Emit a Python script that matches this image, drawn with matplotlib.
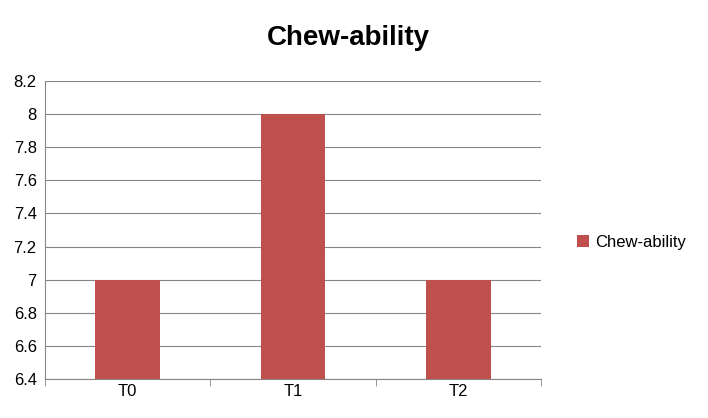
import matplotlib
matplotlib.use("Agg")
import matplotlib.pyplot as plt
import matplotlib.patches as mpatches

categories = ["T0", "T1", "T2"]
values = [7.0, 8.0, 7.0]
series_name = "Chew-ability"
yticks = [6.4, 6.6, 6.8, 7.0, 7.2, 7.4, 7.6, 7.8, 8.0, 8.2]

plt.rcParams["font.family"] = ["Liberation Sans", "DejaVu Sans"]

fig = plt.figure(figsize=(7.08, 4.18), dpi=100)
ax = fig.add_axes([45 / 708, 1 - 379 / 418, 496 / 708, 298 / 418])

ax.bar(range(len(categories)), values, width=0.39, color="#C0504D", zorder=3)
ax.set_xlim(-0.5, len(categories) - 0.5)
ax.set_ylim(6.4, 8.2)
ax.set_yticks(yticks)
ax.set_yticklabels([f"{v:g}" for v in yticks], fontsize=12)
ax.set_xticks(range(len(categories)))
ax.set_xticklabels(categories, fontsize=12)
ax.grid(axis="y", color="#868686", linewidth=0.8, zorder=0)
for s in ["top", "right"]:
    ax.spines[s].set_visible(False)
ax.spines["left"].set_color("#868686")
ax.spines["bottom"].set_color("#868686")
ax.tick_params(axis="y", length=0, pad=6)
ax.tick_params(axis="x", length=5, color="#868686")
ax.set_xticks([-0.5, 0.5, 1.5, 2.5], minor=True)
ax.tick_params(axis="x", which="major", length=0)
ax.tick_params(axis="x", which="minor", length=5, color="#868686")

fig.text(348 / 708, 1 - 38 / 418, "Chew-ability", ha="center", va="center",
         fontsize=20, fontweight="bold")

handle = mpatches.Patch(facecolor="#C0504D", label=series_name)
fig.legend(handles=[handle], loc="center left", bbox_to_anchor=(562 / 708, 1 - 242 / 418),
           frameon=False, fontsize=12, handlelength=0.7, handleheight=0.7, handletextpad=0.4)

fig.savefig("out.png", dpi=100)
